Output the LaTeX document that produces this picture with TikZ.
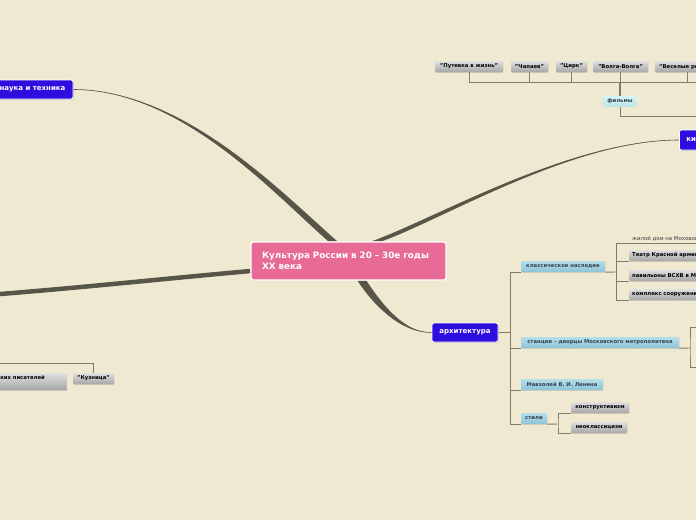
\documentclass[tikz,border=0pt]{standalone}
\usepackage{fontspec}
\setmainfont{DejaVu Sans}
\usetikzlibrary{calc,shadows}
\definecolor{bg}{RGB}{239,233,210}
\definecolor{pinkc}{RGB}{232,106,150}
\definecolor{bluec}{RGB}{46,14,222}
\definecolor{linec}{RGB}{132,124,104}
\definecolor{mainc}{RGB}{88,86,72}
\definecolor{lbtop}{RGB}{182,222,234}
\definecolor{lbbot}{RGB}{140,196,214}
\definecolor{lbtext}{RGB}{52,66,82}
\definecolor{gtop}{RGB}{224,224,224}
\definecolor{gbot}{RGB}{166,166,166}
\definecolor{cyantop}{RGB}{214,244,244}
\definecolor{cyanbot}{RGB}{184,230,232}
\definecolor{plaintext}{RGB}{60,60,60}
\pgfdeclarelayer{back}
\pgfdeclarelayer{lines}
\pgfsetlayers{back,lines,main}
% #1 start (one edge), #2 offset to other edge, #3 #4 controls, #5 end
\newcommand{\taperline}[5]{%
  \fill[mainc] #1 .. controls #3 and #4 .. #5
     .. controls ($#4+0.3*#2$) and ($#3+#2$) .. ($#1+#2$) -- cycle;
  \draw[mainc, line width=0.6pt] #5 .. controls #4 and #3 .. ($#1+0.5*#2$);}
\tikzset{
  mainbox/.style={fill=pinkc, draw=white, line width=1.2pt, rounded corners=2.5pt,
    text=white, font=\bfseries\fontsize{8.8}{11}\selectfont, align=left,
    minimum width=195pt, minimum height=38pt, text width=173pt, inner xsep=11pt, inner ysep=0pt},
  bluebox/.style={fill=bluec, draw=white, line width=0.8pt, rounded corners=2pt,
    text=white, font=\bfseries\fontsize{7}{8}\selectfont, inner xsep=0pt, inner ysep=0pt,
    minimum height=19pt, drop shadow={shadow xshift=0.8pt, shadow yshift=-0.8pt, opacity=0.35}},
  smallfont/.style={font=\bfseries\fontsize{5.3}{6}\selectfont},
  lbbox/.style={smallfont, top color=lbtop, bottom color=lbbot, text=lbtext,
    minimum height=11pt, inner xsep=0pt, inner ysep=0pt, rounded corners=0.8pt,
    drop shadow={shadow xshift=0.4pt, shadow yshift=-0.8pt, opacity=0.25}},
  greybox/.style={smallfont, top color=gtop, bottom color=gbot, text=black,
    minimum height=11pt, inner xsep=0pt, inner ysep=0pt, rounded corners=0.8pt,
    drop shadow={shadow xshift=0.4pt, shadow yshift=-0.8pt, opacity=0.3}},
  cyanbox/.style={smallfont, top color=cyantop, bottom color=cyanbot, text=lbtext,
    minimum height=11pt, inner xsep=0pt, inner ysep=0pt, rounded corners=0.8pt},
  conn/.style={draw=linec, line width=0.9pt},
}
\begin{document}
\begin{tikzpicture}[x=1pt,y=-1pt]
\useasboundingbox (0,0) rectangle (696,520);
\begin{pgfonlayer}{back}
\fill[bg] (0,0) rectangle (696,520);
\end{pgfonlayer}
% nodes
\node[mainbox] (root) at (348.5,261) {Культура России в 20 – 30е годы\\XX века};
\node[bluebox, minimum width=81pt] (sci) at (32.5,89.5) {наука и техника};
\node[bluebox, anchor=west, inner xsep=7pt, minimum height=20pt] (kino) at (679,140) {кино};
\node[bluebox, minimum width=66pt] (arch) at (465,332.5) {архитектура};
% architecture
\node[lbbox, minimum width=84pt] (klass) at (563,266.5) {классическое наследие};
\node[lbbox, minimum width=158pt] (metro) at (600,342.5) {станции – дворцы Московского метрополитена};
\node[lbbox, minimum width=82pt] (mavz) at (562,384.5) {Мавзолей В. И. Ленина};
\node[lbbox, minimum width=26pt] (stili) at (534,418.5) {стили};
\node[greybox, minimum width=58pt] (konstr) at (600,407.5) {конструктивизм};
\node[greybox, minimum width=56pt] (neokl) at (599,427.5) {неоклассицизм};
\node[anchor=south west, inner xsep=1pt, inner ysep=2pt, text=plaintext,
  font=\fontsize{5.4}{6}\selectfont] (zhiloy) at (631,243) {жилой дом на Моховой};
\node[greybox, anchor=west, inner xsep=3pt] (teatr) at (629,255.5) {Театр Красной армии};
\node[greybox, anchor=west, inner xsep=3pt] (pavil) at (629,275.5) {павильоны ВСХВ в Москве};
\node[greybox, anchor=west, inner xsep=3pt] (kompl) at (629,294.5) {комплекс сооружений ВСХВ};
% films
\node[cyanbox, minimum width=34pt] (filmy) at (620,101.5) {фильмы};
\node[greybox, minimum width=68pt] (putevka) at (469,66.5) {"Путевка в жизнь"};
\node[greybox, minimum width=37pt] (chapaev) at (529.5,66.5) {"Чапаев"};
\node[greybox, minimum width=31pt] (cirk) at (571.5,66.5) {"Цирк"};
\node[greybox, minimum width=55pt] (volga) at (620.5,66.5) {"Волга-Волга"};
\node[greybox, anchor=west, inner xsep=4pt] (veselye) at (655,66.5) {"Веселые ребята"};
% left
\node[greybox, minimum width=41pt] (kuz) at (93.5,378.5) {"Кузница"};
\node[greybox, anchor=east, inner xsep=22pt, text height=4pt, text depth=9pt, inner ysep=2pt]
  (pis) at (67,381.5) {Российская ассоциация пролетарских писателей};
% off-picture coordinates
\coordinate (lit) at (-40,297);
\coordinate (fbar) at (620,82);
\coordinate (fright) at (720,82);
\coordinate (fk) at (720,116);
\coordinate (atrunk) at (510,332.5);
\coordinate (kbr) at (616,272);
\coordinate (mbr) at (690,348);
\coordinate (m1) at (720,327);
\coordinate (m2) at (720,367);
\coordinate (sbr) at (558,424);
\coordinate (lbar) at (-20,363);
\begin{pgfonlayer}{lines}
% main branches
\taperline{($(root.north west)+(78,0)$)}{(9,0)}{(270,190)}{(180,89.5)}{(sci.east)}
\taperline{($(root.north west)+(121,0)$)}{(10,0)}{(432,220)}{(570,140)}{(kino.west)}
\taperline{($(root.south west)+(107,0)$)}{(9,0)}{(378,312)}{(405,332.5)}{(arch.west)}
\draw[mainc, line width=4.5pt] (root.west |- 0,271) .. controls (150,280) and (60,290) .. (lit);
% architecture
\draw[conn] (arch.east) -- (atrunk);
\draw[conn] (klass.south west) -| (atrunk);
\draw[conn] (atrunk) |- (stili.south west);
\draw[conn] (atrunk |- metro.south) -- (metro.south west);
\draw[conn] (atrunk |- mavz.south) -- (mavz.south west);
\draw[conn] (klass.south east) -- (kbr);
\draw[conn] (zhiloy.south east) -- (kbr |- zhiloy.south) -- (kbr);
\draw[conn] (kbr) |- (kompl.south west);
\draw[conn] (kbr |- teatr.south) -- (teatr.south west);
\draw[conn] (kbr |- pavil.south) -- (pavil.south west);
\draw[conn] (metro.south east) -- (mbr);
\draw[conn] (m1) -| (mbr) |- (m2);
\draw[conn] (stili.south east) -- (sbr);
\draw[conn] (konstr.south west) -| (sbr) |- (neokl.south west);
% films
\draw[conn] (putevka.south) |- (fright);
\draw[conn] (chapaev.south) -- (chapaev.south |- fbar);
\draw[conn] (cirk.south) -- (cirk.south |- fbar);
\draw[conn] (volga.south) -- (volga.south |- fbar);
\draw[conn] (veselye.south) -- (veselye.south |- fbar);
\draw[conn, line width=1.2pt] (filmy.north) -- (filmy.north |- fbar);
\draw[conn] (filmy.south) |- (fk);
% left
\draw[conn] (lbar) -| (kuz.north);
\end{pgfonlayer}
\end{tikzpicture}
\end{document}
